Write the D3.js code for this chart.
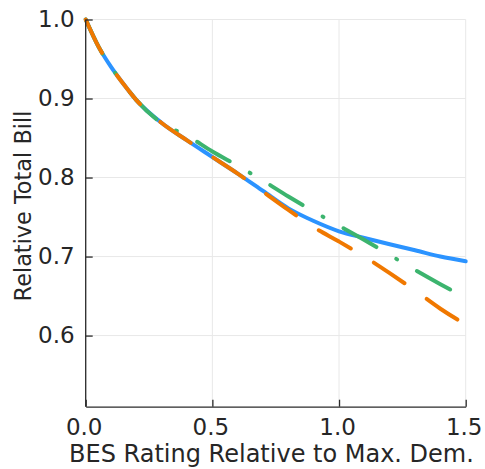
<!DOCTYPE html>
<html>
<head>
<meta charset="utf-8">
<script src="https://cdn.jsdelivr.net/npm/d3@7"></script>
<style>
  html, body { margin: 0; padding: 0; background: #fff; }
  svg { display: block; font-family: "DejaVu Sans", sans-serif; }
</style>
</head>
<body>
<svg id="chart" width="485" height="469"></svg>
<script>
// ---- data ----
const xValues = [0, 0.05, 0.1, 0.15, 0.2, 0.3, 0.4, 0.5, 0.6, 0.7, 0.8, 0.9, 1.0, 1.1, 1.2, 1.3, 1.4, 1.5];
const blueSeries   = [1.0, 0.966, 0.940, 0.918, 0.898, 0.869, 0.847, 0.826, 0.805, 0.783, 0.761, 0.745, 0.732, 0.7235, 0.7155, 0.708, 0.700, 0.694];
const greenSeries  = [1.0, 0.966, 0.940, 0.918, 0.898, 0.869, 0.853, 0.833, 0.815, 0.796, 0.776, 0.757, 0.739, 0.721, 0.702, 0.683, 0.665, 0.648];
const orangeSeries = [1.0, 0.966, 0.940, 0.918, 0.898, 0.869, 0.847, 0.826, 0.805, 0.782, 0.759, 0.737, 0.719, 0.700, 0.679, 0.657, 0.634, 0.614];
const xTicks = [0.0, 0.5, 1.0, 1.5];
const yTicks = [0.6, 0.7, 0.8, 0.9, 1.0];
const xLabel = "BES Rating Relative to Max. Dem.";
const yLabel = "Relative Total Bill";

// ---- layout ----
const svg = d3.select("#chart");
const mLeft = 85.7, mRight = 465.7, mTop = 19.5, mBottom = 406.7;
const x = d3.scaleLinear().domain([0, 1.5]).range([mLeft, mRight]);
const y = d3.scaleLinear().domain([0.51, 1.0]).range([mBottom, mTop]);

// grid
const grid = svg.append("g");
grid.selectAll("line.gx").data(xTicks).join("line")
  .attr("class", "gx")
  .attr("x1", d => x(d)).attr("x2", d => x(d))
  .attr("y1", mTop).attr("y2", mBottom)
  .attr("stroke", "#e8e8e8").attr("stroke-width", 1);
grid.selectAll("line.gy").data(yTicks).join("line")
  .attr("class", "gy")
  .attr("x1", mLeft).attr("x2", mRight)
  .attr("y1", d => y(d)).attr("y2", d => y(d))
  .attr("stroke", "#e8e8e8").attr("stroke-width", 1);

// series
const series = [
  { values: blueSeries,   color: "#2b93ff", dash: null },
  { values: greenSeries,  color: "#3cb46e", dash: "38,23,1,23" },
  { values: orangeSeries, color: "#f07800", dash: "37,27" }
];
const line = d3.line().x(d => x(d[0])).y(d => y(d[1])).curve(d3.curveMonotoneX);
const plot = svg.append("g");
series.forEach(s => {
  plot.append("path")
    .datum(xValues.map((xv, i) => [xv, s.values[i]]))
    .attr("d", line)
    .attr("fill", "none")
    .attr("stroke", s.color)
    .attr("stroke-width", 4)
    .attr("stroke-linecap", "round")
    .attr("stroke-linejoin", "round")
    .attr("stroke-dasharray", s.dash);
});

// axes
const xAxis = d3.axisBottom(x).tickValues(xTicks).tickFormat(d3.format(".1f"))
  .tickSizeInner(-7).tickSizeOuter(0).tickPadding(12);
const yAxis = d3.axisLeft(y).tickValues(yTicks).tickFormat(d3.format(".1f"))
  .tickSizeInner(-7).tickSizeOuter(0).tickPadding(11);

const gx = svg.append("g").attr("transform", `translate(0,${mBottom})`).call(xAxis);
const gy = svg.append("g").attr("transform", `translate(${mLeft},0)`).call(yAxis);
[gx, gy].forEach(g => {
  g.select(".domain").attr("stroke", "#2a2a2a").attr("stroke-width", 1.3);
  g.selectAll(".tick line").attr("stroke", "#2a2a2a").attr("stroke-width", 1.3);
  g.selectAll(".tick text").attr("fill", "#262626")
    .style("font-family", "'DejaVu Sans', sans-serif").style("font-size", "23px");
});
gy.select(".domain").attr("d", `M0,${mBottom}V${mTop}`);
gx.selectAll(".tick text").attr("dx", "-2");

// axis labels
svg.append("text")
  .attr("x", 271.5).attr("y", 461.5)
  .attr("text-anchor", "middle")
  .attr("fill", "#262626")
  .style("font-size", "24px")
  .text(xLabel);
svg.append("text")
  .attr("transform", `translate(31,206) rotate(-90)`)
  .attr("text-anchor", "middle")
  .attr("fill", "#262626")
  .style("font-size", "22.4px")
  .text(yLabel);
</script>
</body>
</html>
